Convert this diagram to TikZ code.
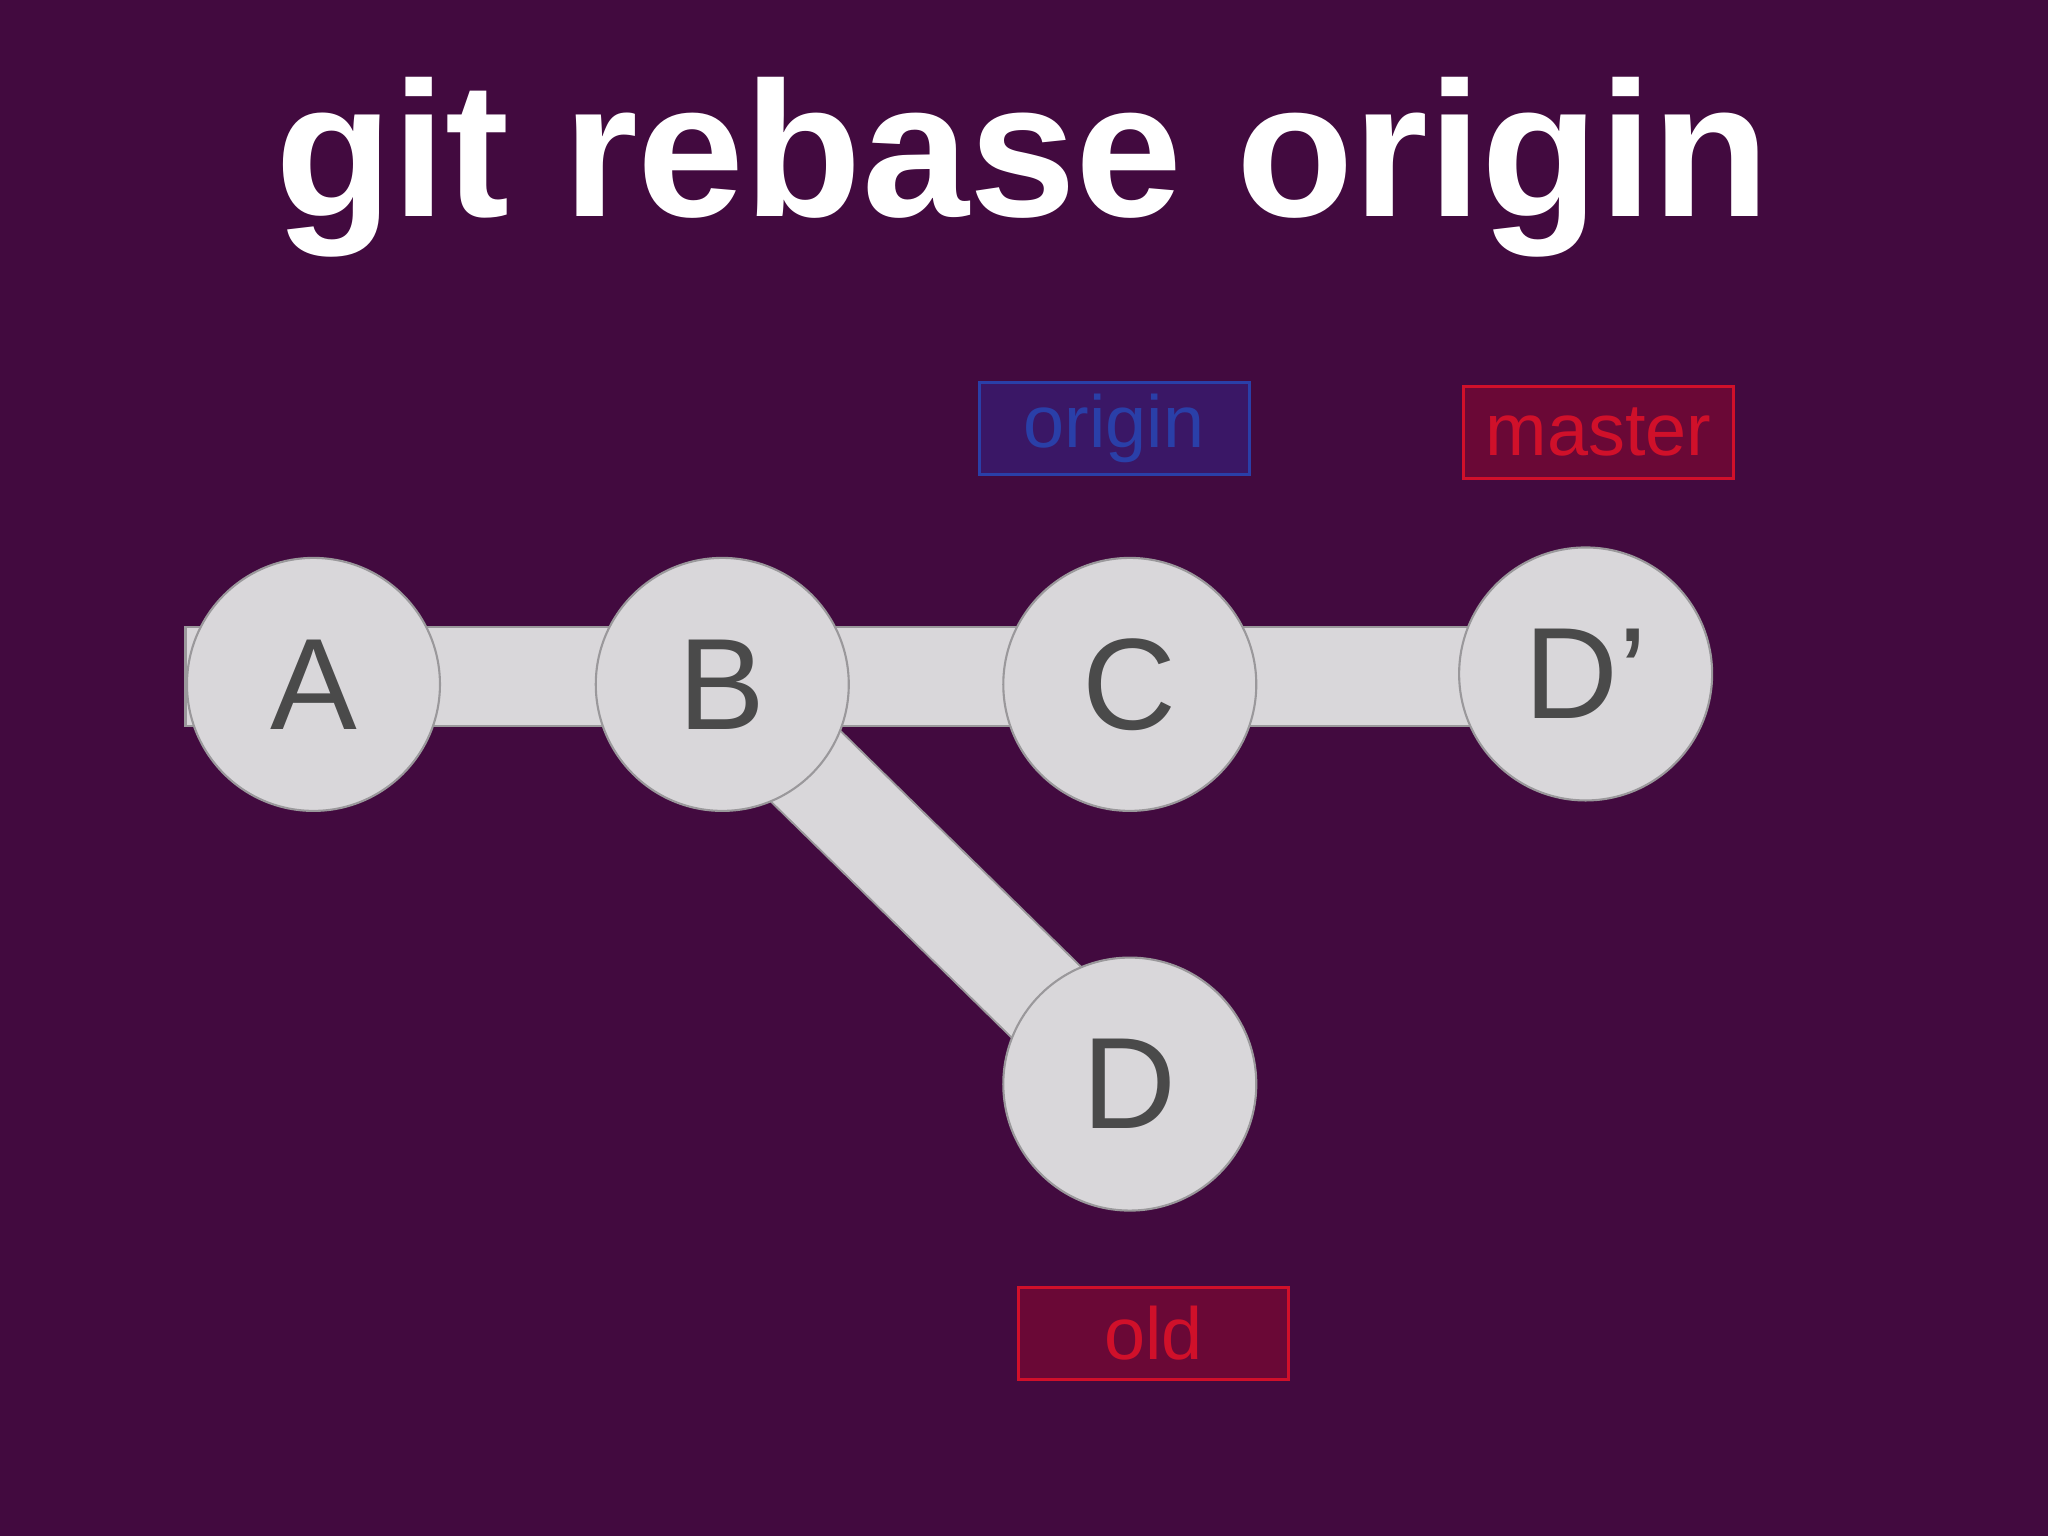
\documentclass[tikz,border=0pt]{standalone}
\usepackage{fontspec}
\setmainfont{Liberation Sans}
\definecolor{bg}{HTML}{420A3F}
\definecolor{cfill}{HTML}{D9D7DA}
\definecolor{cedge}{HTML}{9A989B}
\definecolor{ctext}{HTML}{4A4A4A}
\definecolor{bluefill}{HTML}{3A1766}
\definecolor{blueedge}{HTML}{2A3FA8}
\definecolor{redfill}{HTML}{6A0836}
\definecolor{rededge}{HTML}{D0102A}
\tikzset{
 commit/.style={circle,fill=cfill,draw=cedge,line width=0.6pt,minimum size=2.53cm,inner sep=0pt,text=ctext,font=\fontsize{37}{37}\selectfont},
 bluelbl/.style={fill=bluefill,draw=blueedge,line width=0.8pt,minimum width=2.7cm,minimum height=0.92cm,inner sep=0pt,text=blueedge,font=\fontsize{21}{21}\selectfont},
 redlbl/.style={fill=redfill,draw=rededge,line width=0.8pt,minimum width=2.7cm,minimum height=0.92cm,inner sep=0pt,text=rededge,font=\fontsize{21}{21}\selectfont},
}
\begin{document}
\begin{tikzpicture}[x=0.01306cm,y=-0.01306cm]
\fill[bg] (0,0) rectangle (1568,1176);
\useasboundingbox (0,0) rectangle (1568,1176);
\node[text=white,font=\bfseries] (title) at (783,128) {\resizebox{14.95cm}{!}{git rebase origin}};
\coordinate (Bc) at (553,524);
\coordinate (Dc) at (865,830);
\filldraw[fill=cfill,draw=cedge,line width=0.6pt] (142,480) rectangle (1214,556);
\draw[cedge,line width=1.01cm] (Bc) -- (Dc);
\draw[cfill,line width=0.97cm] (Bc) -- (Dc);
\node[commit] (A) at (240,524) {A};
\node[commit] (B) at (Bc) {B};
\node[commit] (C) at (865,524) {C};
\node[commit] (D2) at (1214,516) {D'};
\node[commit] (D) at (Dc) {D};
\node[bluelbl] (origin) at (853,328) {origin};
\node[redlbl] (master) at (1224,331) {master};
\node[redlbl] (old) at (883,1021) {old};
\end{tikzpicture}
\end{document}
